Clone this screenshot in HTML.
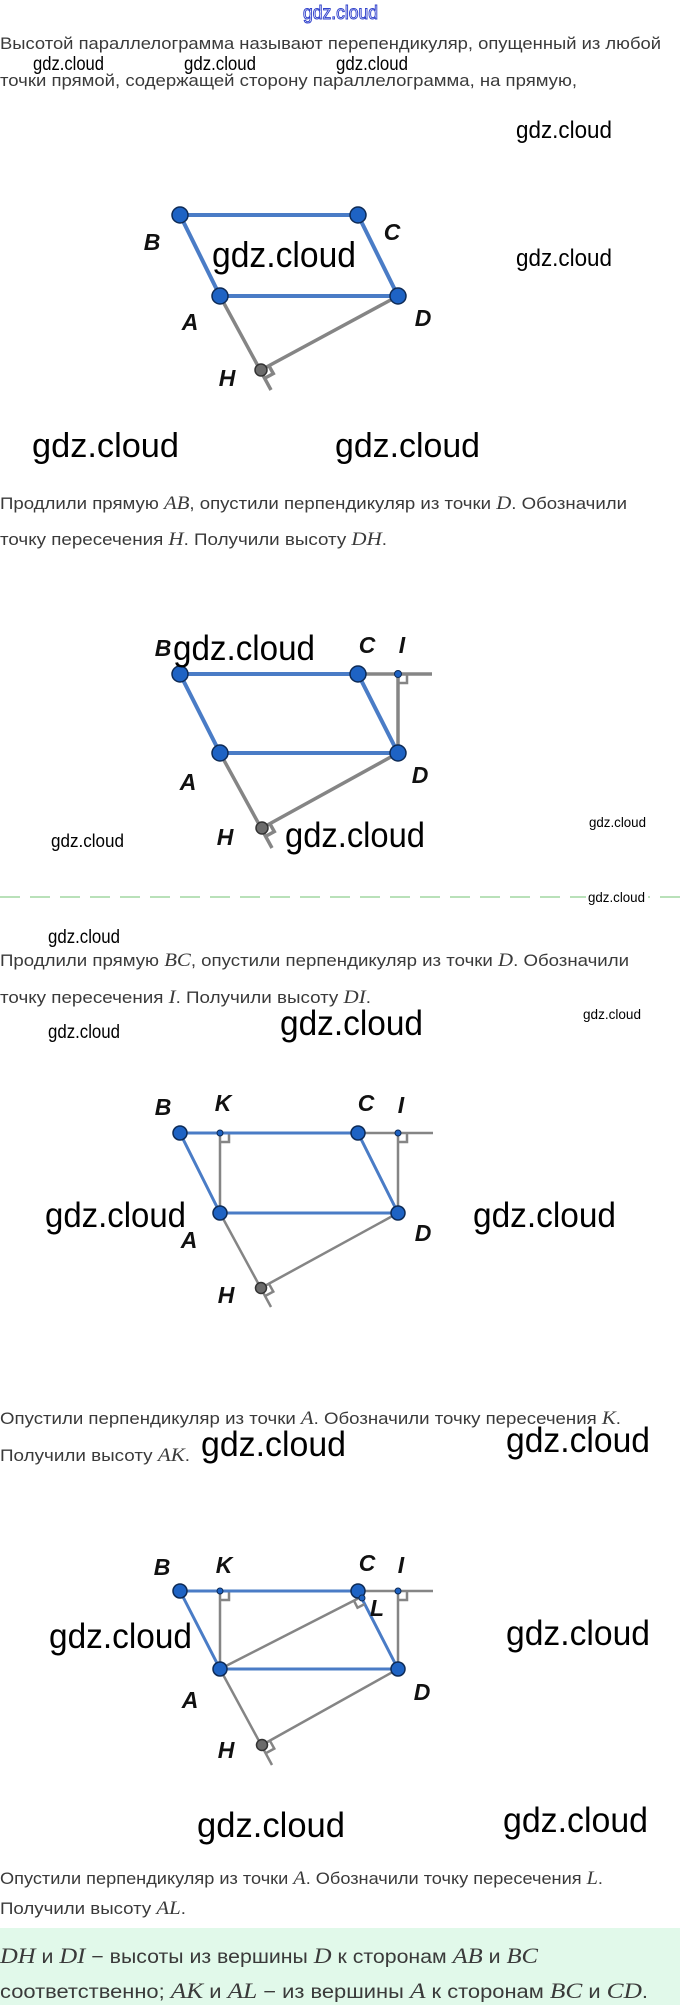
<!DOCTYPE html>
<html><head><meta charset="utf-8"><style>
html,body{margin:0;padding:0;background:#fff}
svg{display:block}
.t{font-family:"Liberation Sans",sans-serif;font-size:17px;fill:#3a3a3a}
.m{font-family:"Liberation Serif",serif;font-style:italic;font-size:19px}
.w{font-family:"Liberation Sans",sans-serif;fill:#000}
.lb{font-family:"Liberation Sans",sans-serif;font-style:italic;font-weight:bold;font-size:23px;fill:#111;text-anchor:middle}
.bl{stroke:#4a7cc6;stroke-width:4;stroke-linecap:round}
.bl2{stroke:#4a7cc6;stroke-width:3;stroke-linecap:round}
.gr{stroke:#858585;stroke-width:3.5;fill:none}
.gr2{stroke:#858585;stroke-width:2.5;fill:none}
.pt{fill:#1e63c4;stroke:#0d2a55;stroke-width:1.5}
.hp{fill:#6b6b6b;stroke:#333;stroke-width:1.5}
.sp{fill:#1e63c4;stroke:#0d2a55;stroke-width:1}
</style></head><body>
<svg width="680" height="2005" viewBox="0 0 680 2005" xmlns="http://www.w3.org/2000/svg">
<!-- top watermark -->
<text x="303" y="19" textLength="75" lengthAdjust="spacingAndGlyphs" style="font-family:'Liberation Sans',sans-serif;font-size:19px;fill:#fff;stroke:#3344cc;stroke-width:1">gdz.cloud</text>

<text class="t" x="0" y="49" textLength="661" lengthAdjust="spacingAndGlyphs">Высотой параллелограмма называют перепендикуляр, опущенный из любой</text>
<text class="w" x="33" y="70" font-size="19" textLength="71" lengthAdjust="spacingAndGlyphs">gdz.cloud</text>
<text class="w" x="184" y="70" font-size="19" textLength="72" lengthAdjust="spacingAndGlyphs">gdz.cloud</text>
<text class="w" x="336" y="70" font-size="19" textLength="72" lengthAdjust="spacingAndGlyphs">gdz.cloud</text>
<text class="t" x="0" y="86" textLength="577" lengthAdjust="spacingAndGlyphs">точки прямой, содержащей сторону параллелограмма, на прямую,</text>
<text class="w" x="516" y="138" font-size="24" textLength="96" lengthAdjust="spacingAndGlyphs">gdz.cloud</text>
<text class="w" x="516" y="266" font-size="24" textLength="96" lengthAdjust="spacingAndGlyphs">gdz.cloud</text>

<!-- Diagram 1 -->
<line class="bl" x1="180" y1="215" x2="358" y2="215"/>
<line class="bl" x1="180" y1="215" x2="220" y2="296"/>
<line class="bl" x1="358" y1="215" x2="398" y2="296"/>
<line class="bl" x1="220" y1="296" x2="398" y2="296"/>
<line class="gr" x1="220" y1="296" x2="271" y2="390"/>
<line class="gr" x1="398" y1="296" x2="261" y2="370"/>
<polyline class="gr" points="265.4,377.9 273.3,373.6 268.9,365.7"/>
<circle class="pt" cx="180" cy="215" r="8"/><circle class="pt" cx="358" cy="215" r="8"/>
<circle class="pt" cx="220" cy="296" r="8"/><circle class="pt" cx="398" cy="296" r="8"/>
<circle class="hp" cx="261" cy="370" r="6"/>
<text class="lb" x="152" y="250">B</text><text class="lb" x="392" y="240">C</text>
<text class="lb" x="190" y="330">A</text><text class="lb" x="423" y="326">D</text><text class="lb" x="227" y="386">H</text>
<text class="w" x="212" y="267" font-size="36" textLength="144" lengthAdjust="spacingAndGlyphs">gdz.cloud</text>

<text class="w" x="32" y="457" font-size="34" textLength="147" lengthAdjust="spacingAndGlyphs">gdz.cloud</text>
<text class="w" x="335" y="457" font-size="34" textLength="145" lengthAdjust="spacingAndGlyphs">gdz.cloud</text>

<text class="t" x="0" y="509" textLength="627" lengthAdjust="spacingAndGlyphs">Продлили прямую <tspan class="m">AB</tspan>, опустили перпендикуляр из точки <tspan class="m">D</tspan>. Обозначили</text>
<text class="t" x="0" y="545" textLength="387" lengthAdjust="spacingAndGlyphs">точку пересечения <tspan class="m">H</tspan>. Получили высоту <tspan class="m">DH</tspan>.</text>

<!-- Diagram 2 -->
<line class="gr" x1="358" y1="674" x2="432" y2="674"/>
<line class="gr" x1="398" y1="674" x2="398" y2="753"/>
<polyline class="gr2" points="398,683 407,683 407,674"/>
<line class="bl" x1="180" y1="674" x2="358" y2="674"/>
<line class="bl" x1="180" y1="674" x2="220" y2="753"/>
<line class="bl" x1="358" y1="674" x2="398" y2="753"/>
<line class="bl" x1="220" y1="753" x2="398" y2="753"/>
<line class="gr" x1="220" y1="753" x2="272" y2="848"/>
<line class="gr" x1="398" y1="753" x2="262" y2="828"/>
<polyline class="gr" points="266.4,835.9 274.3,831.6 269.9,823.7"/>
<circle class="pt" cx="180" cy="674" r="8"/><circle class="pt" cx="358" cy="674" r="8"/>
<circle class="pt" cx="220" cy="753" r="8"/><circle class="pt" cx="398" cy="753" r="8"/>
<circle class="sp" cx="398" cy="674" r="3.5"/>
<circle class="hp" cx="262" cy="828" r="6"/>
<text class="lb" x="163" y="656">B</text><text class="lb" x="367" y="653">C</text><text class="lb" x="402" y="653">I</text>
<text class="lb" x="188" y="790">A</text><text class="lb" x="420" y="783">D</text><text class="lb" x="225" y="845">H</text>
<text class="w" x="173" y="660" font-size="35" textLength="142" lengthAdjust="spacingAndGlyphs">gdz.cloud</text>
<text class="w" x="285" y="847" font-size="35" textLength="140" lengthAdjust="spacingAndGlyphs">gdz.cloud</text>
<text class="w" x="51" y="847" font-size="18" textLength="73" lengthAdjust="spacingAndGlyphs">gdz.cloud</text>
<text class="w" x="589" y="827" font-size="14" textLength="57" lengthAdjust="spacingAndGlyphs">gdz.cloud</text>

<line x1="0" y1="897" x2="680" y2="897" stroke="#8fcf8f" stroke-width="1.2" stroke-dasharray="20,10"/>
<rect x="586" y="889" width="62" height="16" fill="#fff"/>
<text class="w" x="588" y="902" font-size="14" textLength="57" lengthAdjust="spacingAndGlyphs">gdz.cloud</text>

<text class="w" x="48" y="943" font-size="19" textLength="72" lengthAdjust="spacingAndGlyphs">gdz.cloud</text>
<text class="t" x="0" y="966" textLength="629" lengthAdjust="spacingAndGlyphs">Продлили прямую <tspan class="m">BC</tspan>, опустили перпендикуляр из точки <tspan class="m">D</tspan>. Обозначили</text>
<text class="t" x="0" y="1003" textLength="371" lengthAdjust="spacingAndGlyphs">точку пересечения <tspan class="m">I</tspan>. Получили высоту <tspan class="m">DI</tspan>.</text>
<text class="w" x="48" y="1038" font-size="19" textLength="72" lengthAdjust="spacingAndGlyphs">gdz.cloud</text>
<text class="w" x="280" y="1035" font-size="35" textLength="143" lengthAdjust="spacingAndGlyphs">gdz.cloud</text>
<text class="w" x="583" y="1019" font-size="14" textLength="58" lengthAdjust="spacingAndGlyphs">gdz.cloud</text>

<!-- Diagram 3 -->
<line class="gr2" x1="358" y1="1133" x2="433" y2="1133"/>
<line class="gr2" x1="398" y1="1133" x2="398" y2="1213"/>
<line class="gr2" x1="220" y1="1133" x2="220" y2="1213"/>
<polyline class="gr2" points="398,1142 407,1142 407,1133"/>
<polyline class="gr2" points="220,1142 229,1142 229,1133"/>
<line class="bl2" x1="180" y1="1133" x2="358" y2="1133"/>
<line class="bl2" x1="180" y1="1133" x2="220" y2="1213"/>
<line class="bl2" x1="358" y1="1133" x2="398" y2="1213"/>
<line class="bl2" x1="220" y1="1213" x2="398" y2="1213"/>
<line class="gr2" x1="220" y1="1213" x2="271" y2="1307"/>
<line class="gr2" x1="398" y1="1213" x2="261" y2="1288"/>
<polyline class="gr2" points="265.4,1295.9 273.3,1291.6 268.9,1283.7"/>
<circle class="pt" cx="180" cy="1133" r="7"/><circle class="pt" cx="358" cy="1133" r="7"/>
<circle class="pt" cx="220" cy="1213" r="7"/><circle class="pt" cx="398" cy="1213" r="7"/>
<circle class="sp" cx="220" cy="1133" r="3"/><circle class="sp" cx="398" cy="1133" r="3"/>
<circle class="hp" cx="261" cy="1288" r="5.5"/>
<text class="lb" x="163" y="1115">B</text><text class="lb" x="223" y="1111">K</text><text class="lb" x="366" y="1111">C</text><text class="lb" x="401" y="1113">I</text>
<text class="lb" x="189" y="1248">A</text><text class="lb" x="423" y="1241">D</text><text class="lb" x="226" y="1303">H</text>
<text class="w" x="45" y="1227" font-size="35" textLength="141" lengthAdjust="spacingAndGlyphs">gdz.cloud</text>
<text class="w" x="473" y="1227" font-size="35" textLength="143" lengthAdjust="spacingAndGlyphs">gdz.cloud</text>

<text class="t" x="0" y="1424" textLength="621" lengthAdjust="spacingAndGlyphs">Опустили перпендикуляр из точки <tspan class="m">A</tspan>. Обозначили точку пересечения <tspan class="m">K</tspan>.</text>
<text class="t" x="0" y="1461" textLength="190" lengthAdjust="spacingAndGlyphs">Получили высоту <tspan class="m">AK</tspan>.</text>
<text class="w" x="201" y="1456" font-size="35" textLength="145" lengthAdjust="spacingAndGlyphs">gdz.cloud</text>
<text class="w" x="506" y="1452" font-size="35" textLength="144" lengthAdjust="spacingAndGlyphs">gdz.cloud</text>

<!-- Diagram 4 -->
<line class="gr2" x1="358" y1="1591" x2="433" y2="1591"/>
<line class="gr2" x1="398" y1="1591" x2="398" y2="1669"/>
<line class="gr2" x1="220" y1="1591" x2="220" y2="1669"/>
<polyline class="gr2" points="398,1600 407,1600 407,1591"/>
<polyline class="gr2" points="220,1600 229,1600 229,1591"/>
<line class="bl2" x1="180" y1="1591" x2="358" y2="1591"/>
<line class="bl2" x1="180" y1="1591" x2="220" y2="1669"/>
<line class="bl2" x1="358" y1="1591" x2="398" y2="1669"/>
<line class="bl2" x1="220" y1="1669" x2="398" y2="1669"/>
<line class="gr2" x1="220" y1="1669" x2="361" y2="1597"/>
<polyline class="gr2" points="353.9,1600.6 357.5,1607.7 364.6,1604.1"/>
<line class="gr2" x1="220" y1="1669" x2="272" y2="1765"/>
<line class="gr2" x1="398" y1="1669" x2="262" y2="1745"/>
<polyline class="gr2" points="266.4,1752.9 274.3,1748.6 269.9,1740.7"/>
<circle class="pt" cx="180" cy="1591" r="7"/><circle class="pt" cx="358" cy="1591" r="7"/>
<circle class="pt" cx="220" cy="1669" r="7"/><circle class="pt" cx="398" cy="1669" r="7"/>
<circle class="sp" cx="220" cy="1591" r="3"/><circle class="sp" cx="398" cy="1591" r="3"/><circle class="sp" cx="362" cy="1598" r="3"/>
<circle class="hp" cx="262" cy="1745" r="5.5"/>
<text class="lb" x="162" y="1575">B</text><text class="lb" x="224" y="1573">K</text><text class="lb" x="367" y="1571">C</text><text class="lb" x="401" y="1573">I</text>
<text class="lb" x="377" y="1616">L</text>
<text class="lb" x="190" y="1708">A</text><text class="lb" x="422" y="1700">D</text><text class="lb" x="226" y="1758">H</text>
<text class="w" x="49" y="1648" font-size="35" textLength="143" lengthAdjust="spacingAndGlyphs">gdz.cloud</text>
<text class="w" x="506" y="1645" font-size="35" textLength="144" lengthAdjust="spacingAndGlyphs">gdz.cloud</text>

<text class="w" x="197" y="1837" font-size="35" textLength="148" lengthAdjust="spacingAndGlyphs">gdz.cloud</text>
<text class="w" x="503" y="1832" font-size="35" textLength="145" lengthAdjust="spacingAndGlyphs">gdz.cloud</text>

<text class="t" x="0" y="1884" textLength="603" lengthAdjust="spacingAndGlyphs">Опустили перпендикуляр из точки <tspan class="m">A</tspan>. Обозначили точку пересечения <tspan class="m">L</tspan>.</text>
<text class="t" x="0" y="1914" textLength="186" lengthAdjust="spacingAndGlyphs">Получили высоту <tspan class="m">AL</tspan>.</text>

<rect x="0" y="1928" width="680" height="77" fill="#e1f9ea"/>
<text class="t" x="0" y="1963" font-size="19" style="font-size:19px" textLength="538" lengthAdjust="spacingAndGlyphs"><tspan class="m" style="font-size:22px">DH</tspan> и <tspan class="m" style="font-size:22px">DI</tspan> − высоты из вершины <tspan class="m" style="font-size:22px">D</tspan> к сторонам <tspan class="m" style="font-size:22px">AB</tspan> и <tspan class="m" style="font-size:22px">BC</tspan></text>
<text class="t" x="0" y="1998" style="font-size:19px" textLength="648" lengthAdjust="spacingAndGlyphs">соответственно; <tspan class="m" style="font-size:22px">AK</tspan> и <tspan class="m" style="font-size:22px">AL</tspan> − из вершины <tspan class="m" style="font-size:22px">A</tspan> к сторонам <tspan class="m" style="font-size:22px">BC</tspan> и <tspan class="m" style="font-size:22px">CD</tspan>.</text>
</svg>
</body></html>
